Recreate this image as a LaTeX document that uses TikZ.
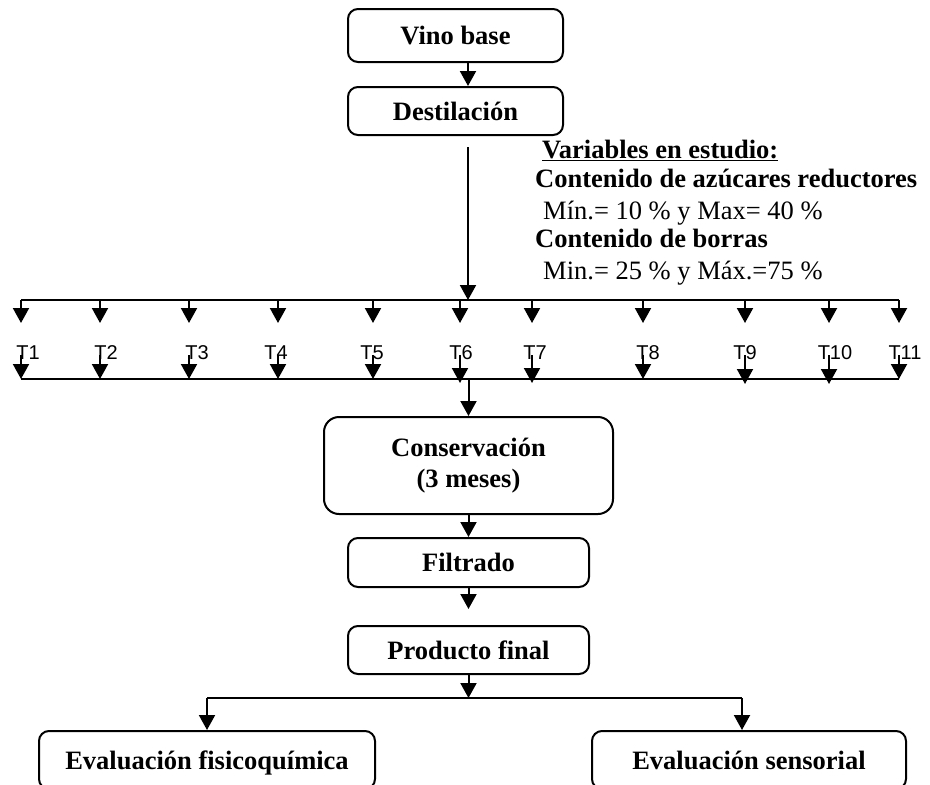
\documentclass[tikz,border=0pt]{standalone}
\usepackage{fontspec}
\setmainfont{Liberation Serif}
\newfontfamily\arialfont{Liberation Sans}
\usepackage{tikz}
\usetikzlibrary{arrows.meta,positioning}
\frenchspacing

\begin{document}
\begin{tikzpicture}[x=1pt,y=-1pt,
  box/.style={draw, line width=2pt, rounded corners=10pt, inner sep=0pt, align=center,
    font=\bfseries\fontsize{26.5}{31}\selectfont},
  arr/.style={-{Triangle[length=15pt,width=16pt]}, line width=2pt},
  line/.style={line width=2pt},
  tlabel/.style={inner sep=0pt, font=\arialfont\fontsize{20}{24}\selectfont},
  vartext/.style={inner sep=0pt, anchor=base west, font=\fontsize{26.5}{31}\selectfont},
  varbold/.style={vartext, font=\bfseries\fontsize{26.5}{31}\selectfont}]
\useasboundingbox (0,0) rectangle (930,785);
\clip (0,0) rectangle (930,785);

\coordinate (col) at (468,0);

\node[box, minimum width=215pt, minimum height=53pt] (vino) at (455.5,35.5) {Vino base};
\node[box, minimum width=215pt, minimum height=48pt] (desti) at (455.5,111) {Destilación};
\node[box, minimum width=289pt, minimum height=97pt, rounded corners=15pt] (conse) at (468.5,465.5) {Conservación\\(3 meses)};
\node[box, minimum width=241pt, minimum height=49pt] (filtr) at (468.5,562.5) {Filtrado};
\node[box, minimum width=241pt, minimum height=48pt] (produ) at (468.5,650) {Producto final};
\node[box, minimum width=336pt, minimum height=58pt, text depth=0pt] (evalfq) at (207,760) {Evaluación fisicoquímica};
\node[box, minimum width=314pt, minimum height=58pt, text depth=0pt] (evalse) at (749,760) {Evaluación sensorial};

\node[varbold] (var0) at (542,158) {\underline{Variables en estudio:}};
\node[varbold] (var1) at (535,187) {Contenido de azúcares reductores};
\node[vartext] (var2) at (543,219) {Mín.= 10 \% y Max= 40 \%};
\node[varbold] (var3) at (535,247) {Contenido de borras};
\node[vartext] (var4) at (543,279) {Min.= 25 \% y Máx.=75 \%};

\draw[arr] (vino.south -| col) -- (desti.north -| col);
\draw[arr] ([yshift=-11pt]desti.south -| col) -- (col |- 0,300);

\coordinate (tl) at (21,300);
\coordinate (tr) at (899,300);
\coordinate (bl) at (21,379);
\coordinate (br) at (899,379);
\draw[line] (tl) -- (tr);
\draw[line] (bl) -- (br);

\foreach \i/\x/\lx/\tip in {1/21/28/379, 2/100/106/379, 3/189/197/379, 4/278/276/379,
    5/373/372/379, 6/460/461/383, 7/532/535/383, 8/643/648/379, 9/745/745/384,
    10/829/835/384, 11/899/905/379} {
  \node[tlabel] (t\i) at (\lx,353) {T\i};
  \coordinate (u\i) at (\x,300);
  \coordinate (v\i) at (\x,323);
  \coordinate (w\i) at (\x,355);
  \coordinate (z\i) at (\x,\tip);
  \draw[arr] (u\i) -- (v\i);
  \draw[arr] (w\i) -- (z\i);
}

\draw[arr] (conse.north |- bl) -- (conse.north);
\draw[arr] (conse.south) -- (filtr.north);
\draw[arr] (filtr.south) -- ([yshift=16pt]produ.north);

\coordinate (bra) at (207,698);
\coordinate (brb) at (742,698);
\draw[arr] (produ.south) -- (produ.south |- bra);
\draw[line] (bra) -- (brb);
\draw[arr] (bra) -- (evalfq.north -| bra);
\draw[arr] (brb) -- (evalse.north -| brb);
\end{tikzpicture}
\end{document}
